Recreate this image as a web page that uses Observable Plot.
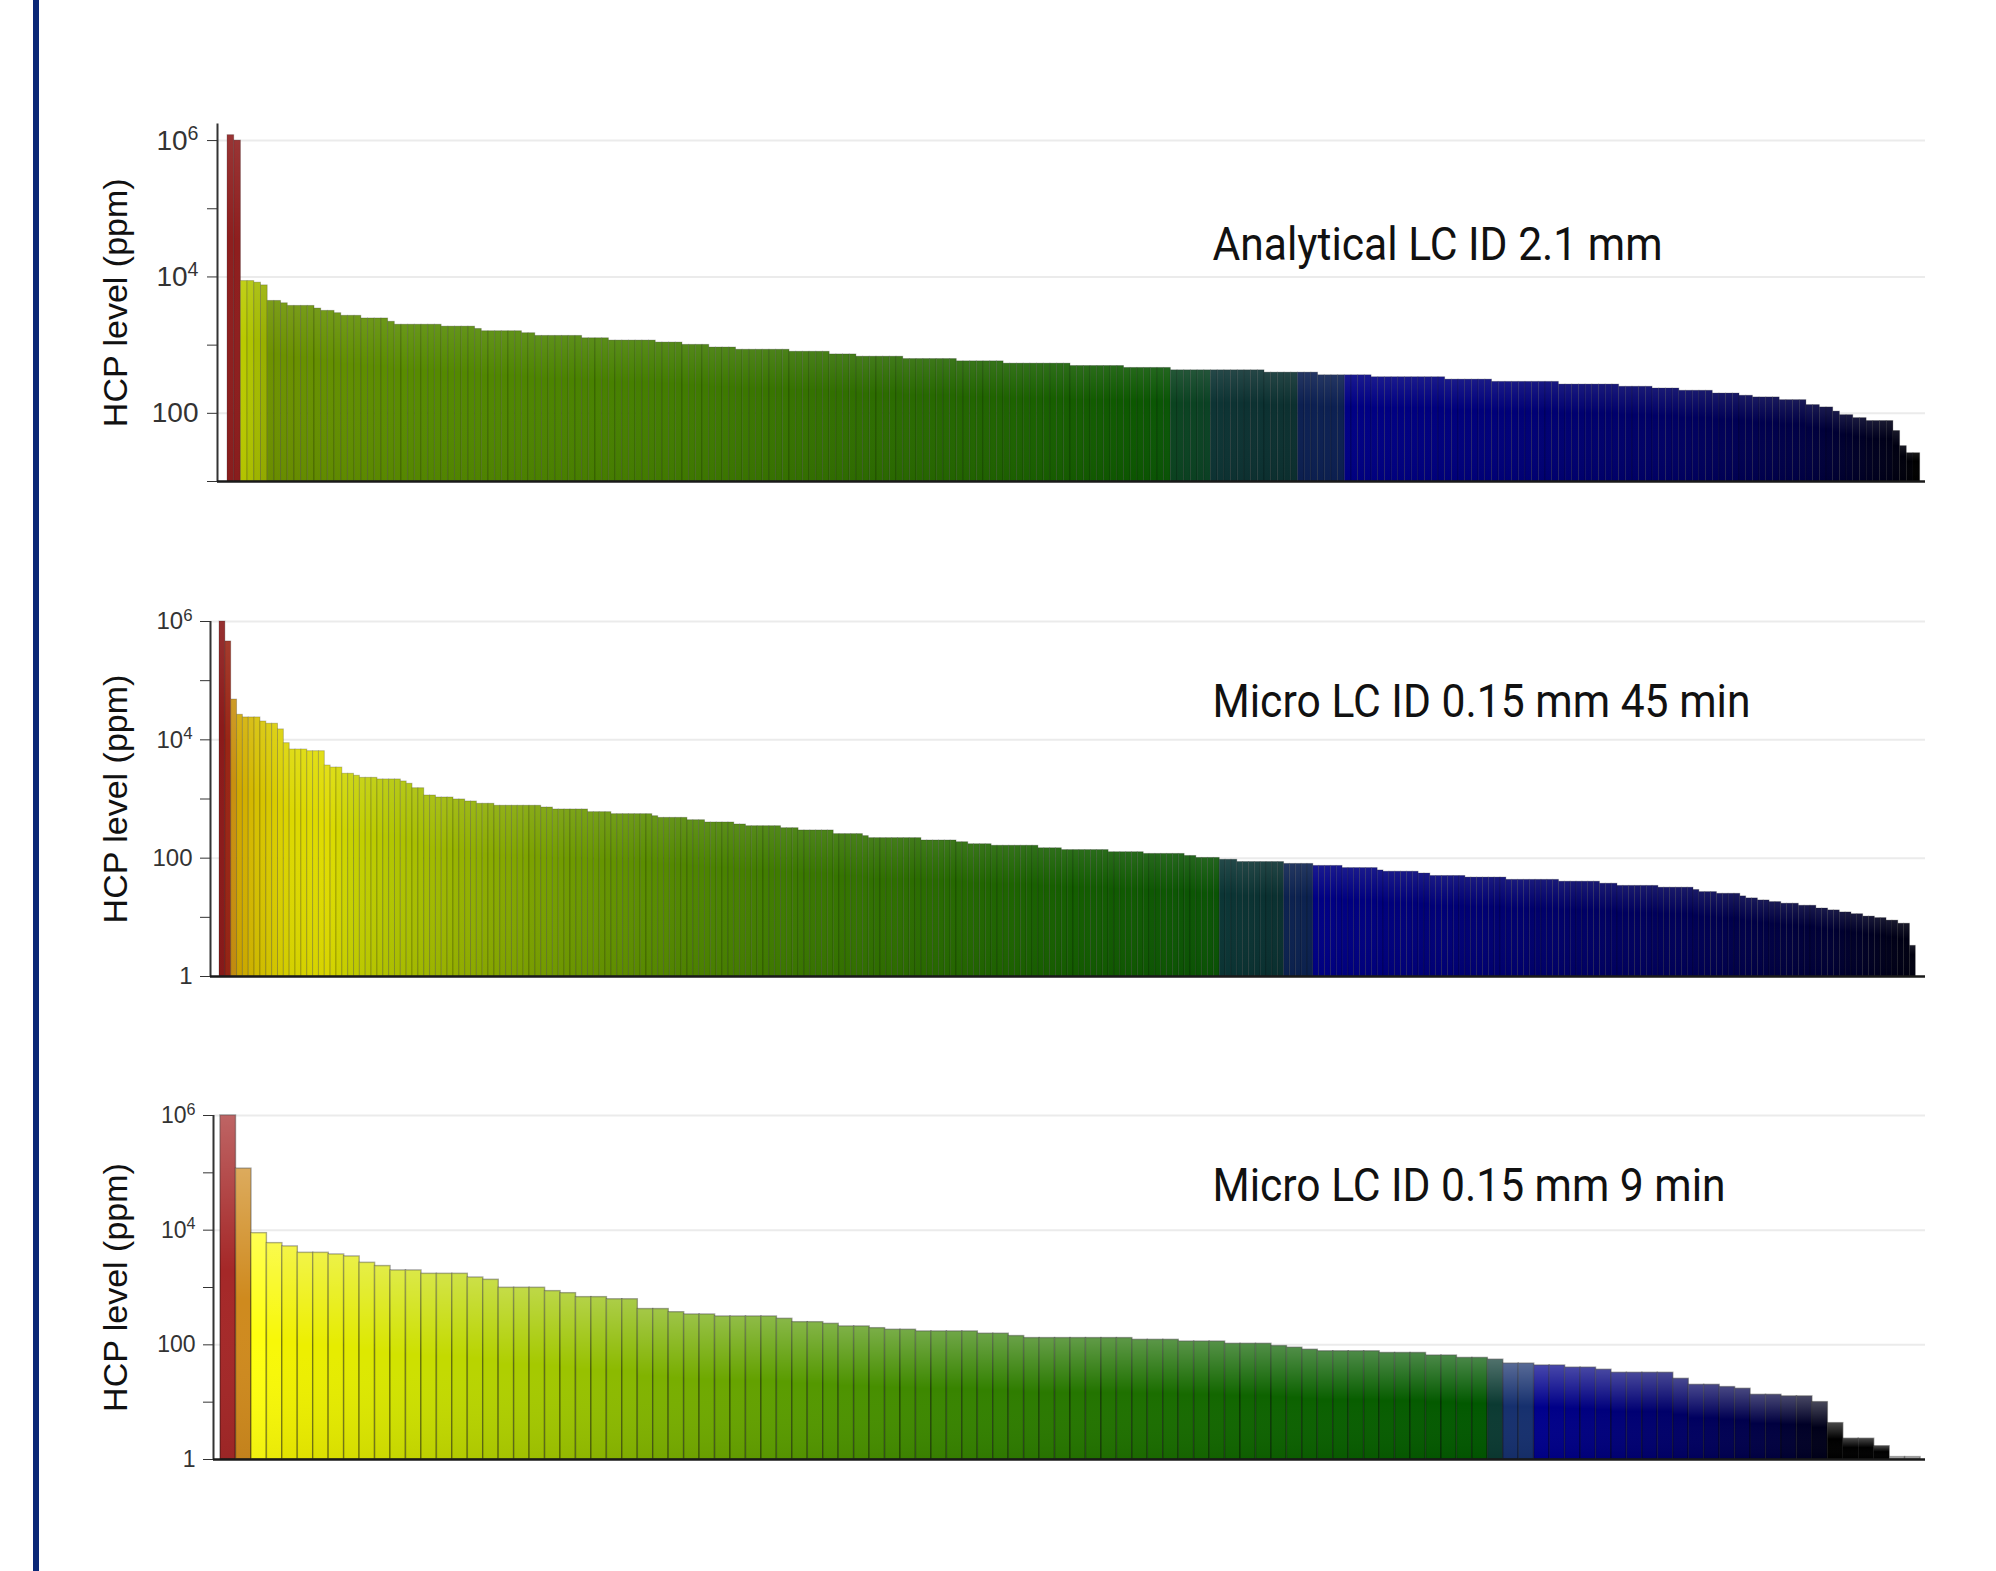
<!DOCTYPE html>
<html>
<head>
<meta charset="utf-8">
<script src="https://cdn.jsdelivr.net/npm/d3@7"></script>
<script src="https://cdn.jsdelivr.net/npm/@observablehq/plot@0.6"></script>
<style>
  html, body { margin: 0; padding: 0; background: #fff; }
  #page { position: relative; width: 1996px; height: 1571px; overflow: hidden; background: #fff; }
  #rule { position: absolute; left: 33px; top: 0; width: 6px; height: 1571px; background: #0b2878; }
  #page svg.panel { position: absolute; left: 0; }
</style>
</head>
<body>
<svg width="0" height="0" style="position:absolute">
  <defs>
    <linearGradient id="sheen" x1="0" y1="0" x2="0" y2="1">
      <stop offset="0" stop-color="#fff" stop-opacity="0.28"/>
      <stop offset="0.45" stop-color="#fff" stop-opacity="0"/>
      <stop offset="1" stop-color="#000" stop-opacity="0.06"/>
    </linearGradient>
    <linearGradient id="sheenSoft" x1="0" y1="0" x2="0" y2="1">
      <stop offset="0" stop-color="#fff" stop-opacity="0.10"/>
      <stop offset="0.3" stop-color="#fff" stop-opacity="0"/>
      <stop offset="1" stop-color="#000" stop-opacity="0.04"/>
    </linearGradient>
  </defs>
</svg>
<div id="page"><div id="rule"></div></div>
<script>
// ---------------- DATA (plateaus of sorted HCP levels, ppm; each level repeated "count" times) ----------------
const yLabel = "HCP level (ppm)";

const analyticalTitle = "Analytical LC ID 2.1 mm";
const analyticalLevels = [1.2e6, 1.0e6, 8700, 8240, 7520, 4450, 4110, 3760, 3440, 3180, 2940, 2690, 2460, 2200,
  1990, 1866, 1726, 1598, 1495, 1365, 1260, 1166, 1090, 1009, 922, 855, 799, 730, 676, 625, 578, 535, 494, 463,
  427, 395, 361, 338, 312, 289, 264, 245, 231, 214, 195, 181, 171, 156, 132, 122, 106, 94, 85, 77, 55, 33, 26];
const analyticalCounts = [1, 1, 2, 1, 1, 2, 1, 4, 1, 2, 1, 3, 4, 1,
  7, 5, 1, 6, 2, 7, 4, 7, 4, 4, 4, 8, 6, 4, 7, 8, 7, 10, 8, 7,
  14, 8, 8, 11, 7, 10, 9, 5, 4, 5, 4, 2, 4, 4, 2, 2, 1, 2, 2, 4, 1, 1, 2];

const micro45Title = "Micro LC ID 0.15 mm 45 min";
const micro45Levels = [1e6, 4.6e5, 48000, 26500, 23900, 20400, 18700, 15000, 8780, 6860, 6420, 3680, 3400, 2670,
  2470, 2280, 2140, 1980, 1810, 1520, 1145, 1060, 982, 908, 830, 768, 718, 665, 599, 554, 512, 480, 438, 401,
  371, 347, 321, 294, 255, 236, 218, 199, 186, 172, 162, 147, 137, 126, 118, 109, 101, 94, 86, 80, 74, 68, 62,
  59, 55, 50, 47, 43, 40, 37, 34, 31.7, 29, 26.7, 25, 22.6, 20.9, 19.3, 18.1, 17, 15.7, 14.1, 13.1, 12.1, 11.3,
  10.3, 9.7, 8.8, 7.8, 3.3];
const micro45Counts = [1, 1, 1, 1, 3, 1, 2, 1, 1, 3, 3, 1, 2, 2,
  1, 3, 4, 1, 1, 2, 2, 3, 2, 2, 3, 8, 2, 6, 4, 7, 1, 5, 3, 5,
  2, 6, 3, 6, 5, 1, 9, 6, 2, 4, 8, 4, 8, 6, 7, 2, 4, 3, 8, 5, 5, 6, 1,
  6, 2, 6, 7, 9, 7, 3, 7, 6, 1, 3, 4, 1, 2, 2, 2, 3, 3, 2, 2, 2, 2,
  2, 2, 2, 2, 1];

const micro9Title = "Micro LC ID 0.15 mm 9 min";
const micro9Levels = [1e6, 1.18e5, 8850, 5930, 5190, 4020, 3760, 3470, 2690, 2360, 1980, 1730, 1490, 1360, 987,
  863, 795, 678, 622, 420, 370, 338, 312, 284, 248, 232, 209, 195, 183, 171, 156, 142, 131, 122, 114, 104, 95,
  89, 82, 77, 72, 65, 59, 55, 47, 43.6, 40, 36.7, 32.5, 25.5, 20, 18.3, 17.1, 13.4, 12.6, 10, 4.3, 2.3, 1.7, 1.1];
const micro9Counts = [1, 1, 1, 1, 1, 2, 1, 1, 1, 1, 2, 3, 1, 1, 3,
  1, 1, 2, 2, 2, 1, 2, 4, 1, 2, 1, 2, 1, 2, 4, 2, 1, 7, 3, 3, 3, 1,
  1, 1, 4, 3, 2, 2, 1, 2, 2, 2, 1, 4, 1, 2, 1, 1, 2, 2, 1, 1, 2, 1, 2];

// ---------------- helpers ----------------
function expand(levels, counts) {
  const out = [];
  levels.forEach((v, k) => { for (let j = 0; j < counts[k]; j++) out.push({ i: out.length, v }); });
  return out;
}
const fmt = d => d === 1 ? "1" : d === 100 ? "100" : d === 1e4 ? "10^4" : d === 1e6 ? "10^6" : "";

const panels = [
  {
    title: analyticalTitle, bars: expand(analyticalLevels, analyticalCounts), top: 0,
    marginLeft: 217, marginTop: 123.5, frameH: 357.5, yDomain: [10, 1.75e6], xPad: [1.5, 0.8],
    ticks: [10, 100, 1e3, 1e4, 1e5, 1e6], tickFont: 28, tickPad: 9, labelDx: -101,
    titleDx: 995, titleDy: 135.5, titleLen: 450, strokeW: 1, strokeOp: 0.22, sheen: "url(#sheenSoft)",
    colorDomain: [0, 1, 2, 3, 5, 6, 14, 30, 60, 90, 115, 135, 140, 141, 146, 147, 159, 160, 166, 167, 190, 215, 235, 248, 252],
    colorRange: ["#8e1e1e", "#8e1e1e", "#b9ca00", "#b0c400", "#98b000", "#6e9200", "#659000", "#558a00", "#468000",
      "#327000", "#1f6400", "#0c5800", "#0a5606", "#0b4420", "#0b4224", "#0d3434", "#0c3030", "#0c2052", "#0c2052",
      "#000085", "#00007a", "#000065", "#000045", "#000018", "#000000"]
  },
  {
    title: micro45Title, bars: expand(micro45Levels, micro45Counts), top: 560,
    marginLeft: 210, marginTop: 61, frameH: 355, yDomain: [1, 1e6], xPad: [1.54, 1.66],
    ticks: [1, 10, 100, 1e3, 1e4, 1e5, 1e6], tickFont: 24, tickPad: 8, labelDx: -94,
    titleDx: 1002, titleDy: 95, titleLen: 538, strokeW: 1, strokeOp: 0.22, sheen: "url(#sheenSoft)",
    colorDomain: [0, 1, 2, 3, 6, 12, 18, 22, 30, 45, 60, 80, 100, 120, 145, 170, 171, 181, 182, 186, 187, 220, 250, 275, 289],
    colorRange: ["#8b1a1a", "#9a2515", "#c89010", "#d0a800", "#d6c000", "#dcd800", "#e0dc00", "#c8d200", "#b0c400",
      "#8cac00", "#6e9a00", "#4f8600", "#3a7800", "#2a6c00", "#145e00", "#0a5405", "#0b3535", "#0a3030", "#0c2250",
      "#0c2250", "#000085", "#000070", "#000058", "#000035", "#000010"]
  },
  {
    title: micro9Title, bars: expand(micro9Levels, micro9Counts), top: 1040,
    marginLeft: 213, marginTop: 75, frameH: 344, yDomain: [1, 1e6], xPad: [0.453, 0.32],
    ticks: [1, 10, 100, 1e3, 1e4, 1e5, 1e6], tickFont: 23, tickPad: 8, labelDx: -97,
    titleDx: 999, titleDy: 85, titleLen: 513, strokeW: 1.5, strokeOp: 0.35, sheen: "url(#sheen)",
    colorDomain: [0, 1, 2, 4, 8, 12, 16, 22, 28, 36, 46, 56, 66, 81, 82, 83, 84, 85, 90, 95, 100, 103, 104, 107, 108, 109],
    colorRange: ["#a52828", "#cf8a1e", "#ffff10", "#f0f000", "#e2ea00", "#cde000", "#b8d400", "#9cc400", "#7cb000",
      "#5a9c00", "#3a8600", "#237400", "#0f6400", "#015800", "#0b3a32", "#16306e", "#16306e", "#00008c", "#000078",
      "#000060", "#000040", "#00001a", "#000000", "#000000", "#b0b0b0", "#b0b0b0"]
  }
];

const page = document.getElementById("page");

for (const p of panels) {
  const n = p.bars.length;
  const base = p.yDomain[0];
  const height = p.marginTop + p.frameH + 20;
  const xDomain = [-p.xPad[0], n + p.xPad[1]];
  const svg = Plot.plot({
    width: 1996,
    height,
    marginLeft: p.marginLeft,
    marginRight: 71,
    marginTop: p.marginTop,
    marginBottom: 20,
    style: { fontFamily: "'Liberation Sans', Arial, sans-serif", background: "transparent", overflow: "visible" },
    x: { type: "linear", domain: xDomain, axis: null },
    y: { type: "log", domain: p.yDomain, axis: null },
    color: { type: "linear", domain: p.colorDomain, range: p.colorRange, interpolate: "rgb" },
    marks: [
      Plot.ruleY([100, 1e4, 1e6], { stroke: "#ebebeb", strokeWidth: 2 }),
      Plot.rect(p.bars, {
        x1: "i", x2: d => d.i + 1, y1: () => base, y2: "v", inset: 0,
        fill: "i", stroke: "#000", strokeOpacity: p.strokeOp, strokeWidth: p.strokeW
      }),
      Plot.rect(p.bars, { x1: "i", x2: d => d.i + 1, y1: () => base, y2: "v", inset: 0, fill: p.sheen }),
      Plot.ruleX([xDomain[0]], { stroke: "#333", strokeWidth: 2 }),
      Plot.ruleY([base], { stroke: "#1a1a1a", strokeWidth: 2.5 }),
      Plot.axisY({
        anchor: "left", ticks: p.ticks, tickFormat: fmt, tickSize: 10, tickPadding: p.tickPad,
        fontSize: p.tickFont, color: "#333", label: null
      }),
      Plot.text([yLabel], {
        frameAnchor: "left", rotate: -90, dx: p.labelDx, fontSize: 34, fill: "#111",
        textAnchor: "middle", lineAnchor: "middle",
        fontFamily: "'Liberation Sans', Arial, sans-serif"
      }),
      Plot.text([p.title], {
        frameAnchor: "top-left", dx: p.titleDx, dy: p.titleDy, lineAnchor: "bottom", textAnchor: "start",
        fontSize: 46, fontFamily: "Roboto, 'Noto Sans', sans-serif", fill: "#111"
      })
    ]
  });
  svg.classList.add("panel");
  svg.style.top = p.top + "px";
  page.appendChild(svg);

  // finishing touches: superscript exponents and condensed title
  d3.select(svg).selectAll("text").each(function () {
    const t = this.textContent;
    const m = /^10\^(\d)$/.exec(t);
    if (m) {
      const el = d3.select(this);
      el.text("10");
      el.append("tspan").attr("dy", "-0.5em").attr("font-size", "0.7em").text(m[1]);
    } else if (t === p.title) {
      d3.select(this).attr("textLength", p.titleLen).attr("lengthAdjust", "spacingAndGlyphs");
    }
  });
}
</script>
</body>
</html>
